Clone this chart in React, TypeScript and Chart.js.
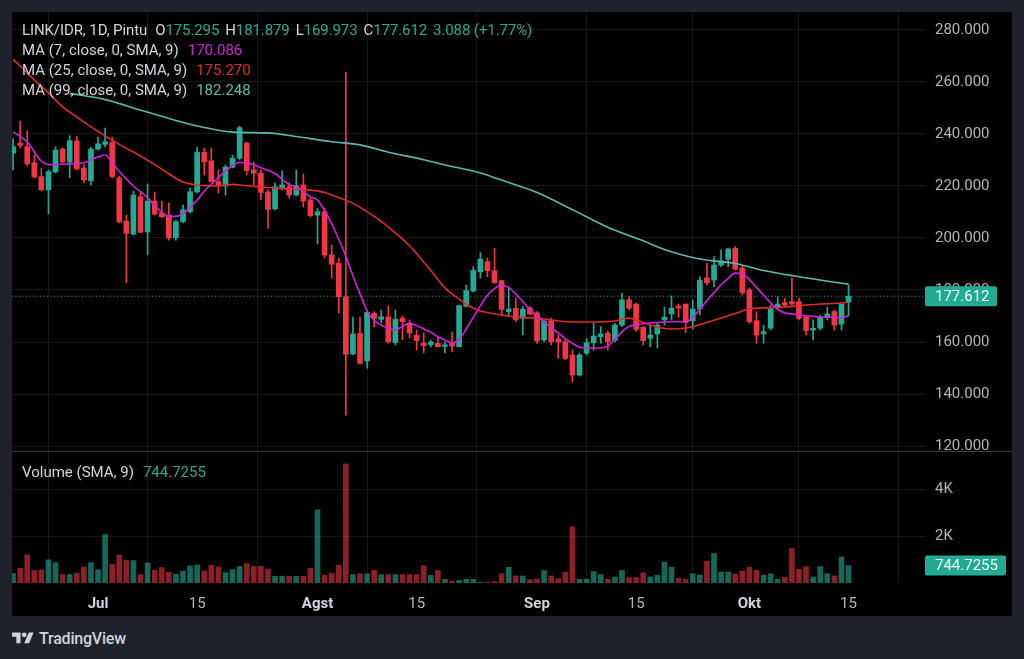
import React, { useEffect, useRef } from 'react';
import { Chart, registerables } from 'chart.js';

Chart.register(...registerables);

// Day index: 0 = 1 Jul. First candle = 19 Jun.
const FIRST_DAY = -12;

// Prices in thousand IDR
const open = [
  232.6, 236.4, 235.1, 228.9, 223.6, 218.5, 225.4, 234.2, 229.2, 237.3, 226.9, 222.0,
  234.2, 236.0, 236.7, 223.1, 206.5, 201.5, 215.9, 202.3, 214.2, 209.7,
  208.8, 200.1, 206.3, 210.1, 217.7, 232.9, 229.7, 221.7, 220.0, 227.2,
  230.7, 236.5, 226.2, 224.9, 217.7, 211.2, 219.3, 219.7, 216.5, 220.4,
  214.6, 208.8, 210.1, 193.5, 190.3, 177.4, 155.4, 163.3, 152.7, 171.0,
  168.7, 169.7, 159.8, 169.2, 167.2, 162.6, 159.6, 159.0, 159.5, 158.3,
  159.5, 158.2, 173.8, 179.6, 187.0, 190.9, 187.4, 183.6, 171.7, 173.0,
  169.1, 173.0, 171.2, 160.8, 168.2, 161.2, 160.1, 155.0, 147.3, 155.7,
  159.7, 162.0, 163.4, 160.6, 166.5, 176.2, 174.6, 165.7, 161.4, 163.1,
  168.5, 170.8, 173.8, 174.6, 168.2, 172.7, 184.7, 183.8, 189.6, 191.8,
  196.0, 188.4, 180.0, 168.2, 163.1, 165.3, 173.4, 175.1, 175.5, 175.5,
  169.7, 164.6, 165.3, 169.5, 171.7, 166.9, 175.295,
];
const high = [
  238.1, 245.0, 241.2, 231.9, 226.9, 226.2, 235.0, 234.6, 239.3, 239.2, 228.1, 235.0,
  238.8, 242.3, 238.8, 223.8, 208.8, 218.1, 217.8, 220.8, 217.7, 214.2,
  213.5, 206.9, 212.7, 219.2, 235.0, 234.6, 234.6, 226.2, 228.1, 231.9,
  243.0, 236.9, 229.2, 226.2, 218.5, 221.2, 225.8, 221.2, 226.2, 224.6,
  215.4, 211.5, 211.5, 197.3, 192.3, 263.8, 169.6, 169.6, 171.7, 171.7,
  172.3, 173.8, 172.3, 170.0, 168.5, 164.6, 163.5, 160.8, 161.5, 160.1,
  163.8, 174.2, 181.9, 189.0, 194.4, 192.2, 196.0, 183.7, 180.8, 176.9,
  173.6, 173.6, 171.7, 168.5, 169.2, 162.7, 160.8, 156.9, 155.7, 161.4,
  167.2, 165.9, 164.2, 167.2, 178.7, 177.4, 175.0, 165.9, 166.5, 167.2,
  173.4, 177.7, 174.6, 174.6, 176.2, 185.1, 190.3, 192.8, 195.4, 196.0,
  196.7, 189.2, 180.8, 171.7, 166.5, 174.2, 177.4, 176.8, 184.5, 176.8,
  170.4, 168.5, 170.4, 173.4, 172.3, 174.8, 181.879,
];
const low = [
  226.2, 234.6, 227.7, 223.1, 218.1, 209.2, 225.0, 228.9, 223.2, 226.2, 221.2, 220.4,
  233.8, 235.0, 223.1, 205.8, 182.8, 201.2, 201.9, 193.5, 208.8, 207.7,
  199.2, 199.2, 205.8, 209.6, 217.3, 224.2, 221.5, 217.3, 216.5, 226.9,
  230.0, 224.2, 220.4, 214.6, 203.7, 210.8, 218.5, 215.4, 216.2, 211.9,
  208.1, 197.7, 192.3, 184.6, 171.2, 131.9, 155.0, 151.5, 149.9, 165.8,
  167.3, 159.6, 158.9, 160.8, 161.5, 156.9, 155.8, 158.1, 158.1, 155.8,
  156.2, 158.1, 173.5, 179.2, 184.6, 185.1, 182.6, 170.4, 169.7, 167.8,
  162.7, 170.4, 159.5, 160.0, 158.9, 153.7, 153.1, 144.7, 146.9, 155.0,
  156.9, 159.5, 156.9, 160.0, 165.9, 172.3, 164.2, 158.9, 158.2, 157.7,
  166.5, 168.5, 169.5, 163.6, 164.9, 170.4, 181.9, 181.3, 189.0, 189.0,
  187.7, 178.1, 167.2, 159.5, 159.5, 164.6, 172.3, 173.4, 174.2, 168.5,
  162.7, 160.8, 164.6, 168.5, 164.6, 164.6, 169.973,
];
const close = [
  235.1, 235.6, 228.5, 223.5, 218.5, 225.5, 233.8, 229.2, 237.4, 226.5, 222.3, 234.2,
  236.2, 237.0, 223.6, 206.2, 201.8, 216.5, 202.2, 214.2, 209.2, 208.2,
  200.0, 206.3, 210.8, 217.8, 232.9, 229.3, 221.7, 220.4, 227.3, 230.7,
  242.4, 225.9, 224.9, 217.5, 211.0, 219.7, 220.4, 216.5, 220.1, 214.2,
  208.6, 210.1, 193.5, 189.9, 177.4, 155.3, 163.1, 151.8, 171.4, 169.1,
  169.7, 160.1, 168.7, 167.8, 163.4, 160.5, 158.6, 160.0, 158.2, 158.9,
  158.4, 174.0, 179.8, 187.5, 191.9, 187.4, 182.8, 172.5, 172.7, 168.5,
  172.6, 170.8, 160.4, 168.1, 160.1, 160.0, 153.7, 147.3, 155.0, 159.7,
  162.3, 163.1, 160.1, 166.5, 176.2, 173.0, 164.9, 160.5, 162.7, 166.5,
  169.5, 173.0, 173.0, 167.4, 172.7, 183.8, 182.8, 189.6, 191.2, 195.8,
  188.0, 179.0, 167.8, 162.7, 164.0, 172.7, 174.6, 174.2, 174.6, 169.1,
  164.4, 165.3, 169.5, 170.8, 166.5, 174.524, 177.612,
];
const volume = [
  400, 630, 1210, 540, 560, 990, 870, 360, 360, 410, 690, 870,
  560, 2070, 790, 1190, 970, 960, 360, 860, 540, 660,
  460, 370, 510, 730, 770, 510, 760, 690, 440, 570,
  710, 830, 710, 710, 590, 290, 290, 290, 290, 290,
  630, 3130, 330, 410, 760, 5090, 360, 390, 390, 540,
  360, 360, 360, 360, 360, 360, 740, 330, 530, 160,
  70, 110, 160, 160, 40, 40, 60, 400, 670, 300,
  300, 140, 170, 530, 300, 190, 460, 2400, 160, 170,
  490, 360, 160, 260, 540, 230, 230, 440, 260, 330,
  900, 670, 200, 160, 400, 340, 940, 1260, 470, 470,
  370, 510, 670, 540, 330, 390, 160, 240, 1470, 590,
  700, 260, 700, 400, 300, 1110, 744.7255,
];

const ma7Days = [
  -12, -10, -8, -7, -4, -2, 0, 1, 2, 3, 5, 7, 8, 10, 11, 12, 14, 15, 17, 18, 20, 21, 23, 25, 27, 28, 30, 31, 32,
  33, 34, 35, 36, 37, 38, 39, 40, 41, 42, 43, 44, 45, 46, 47, 48, 49, 50, 51, 52, 53, 54, 55, 56, 57, 58, 59,
  60, 61, 62, 63, 64, 65, 66, 67, 68, 69, 70, 71, 72, 73, 74, 75, 76, 77, 78, 79, 80, 81, 82, 83, 84, 85, 86,
  87, 88, 89, 90, 91, 92, 93, 94, 95, 96, 97, 98, 99, 100, 101, 102, 103, 104, 105, 106,
];
const ma7Values = [
  240.8, 236.9, 229.5, 228.2, 228.5, 228.9, 231.2, 231.9, 229.0, 225.6, 220.0, 215.5, 212.5, 208.3, 208.3, 209.5,
  214.6, 218.0, 223.2, 225.8, 229.0, 228.9, 227.0, 224.8, 220.5, 219.8, 215.8, 214.6, 210.5,
  205.5, 199.5, 193.0, 185.5, 178.5, 172.0, 168.3, 166.5, 165.3, 164.7, 166.0, 167.3, 166.3, 165.0, 163.8, 162.0,
  160.8, 159.6, 161.0, 165.0, 169.5, 174.0, 178.0, 180.5, 181.8, 181.0, 178.5,
  175.5, 172.5, 170.0, 167.8, 165.5, 163.5, 161.3, 159.5, 158.0, 157.7, 157.7, 157.7, 158.5, 161.0, 164.0, 166.0,
  166.6, 167.0, 167.3, 167.5, 167.7, 167.8, 167.8, 167.8, 169.5, 172.5, 176.0,
  179.0, 182.0, 184.5, 186.5, 186.3, 184.0, 181.0, 178.0, 175.0, 172.5, 171.2, 170.8, 170.4, 170.1, 169.9, 169.6,
  169.6, 169.5, 169.3, 170.086,
];
const ma25Days = [
  -12, -9, -7, -5, -3, 0, 3, 6, 9, 12, 14, 17, 19, 20, 23, 25, 27, 30, 32, 34, 36, 39, 42, 44, 47, 49, 51, 52, 54,
  57, 59, 62, 65, 67, 70, 73, 75, 77, 79, 81, 83, 86, 88, 90, 92, 95, 97, 100, 102, 105, 106,
];
const ma25Values = [
  268.8, 260.8, 255.8, 250.4, 246.5, 241.0, 236.0, 231.5, 226.5, 221.5, 220.4, 220.0, 220.6, 220.4, 219.6, 219.2,
  218.8, 218.4, 217.5, 215.5, 213.3, 208.3, 202.0, 197.0, 187.5, 180.8, 176.5, 174.5, 171.9,
  170.4, 169.6, 169.2, 168.1, 167.7, 167.7, 168.1, 169.2, 167.5, 165.8, 165.0, 165.4, 167.5, 169.2, 171.0, 172.7,
  173.2, 173.5, 174.2, 174.6, 175.0, 175.27,
];
const ma99Days = [-4, 1, 6, 11, 15, 19, 24, 28, 33, 37, 41, 46, 49, 54, 58, 62, 67, 72, 77, 80, 85, 90, 94, 99, 104, 106];
const ma99Values = [
  255.6, 253.2, 249.2, 245.2, 242.5, 240.7, 240.4, 239.0, 237.0, 235.8, 233.0, 230.1, 228.1, 225.0, 221.3, 217.5,
  210.9, 204.1, 198.9, 195.6, 191.9, 190.2, 187.5, 185.1, 183.0, 182.248,
];

const dayTicks = [0, 14, 31, 45, 62, 76, 92, 106];
const dayTickLabels = ['Jul', '15', 'Agst', '15', 'Sep', '15', 'Okt', '15'];
const monthTick = [true, false, true, false, true, false, true, false];
const priceTicks = [120, 140, 160, 180, 200, 220, 240, 260, 280];
const volumeTicks = [2000, 4000];
const volumeTickLabels = ['2K', '4K'];

const X_MIN = -12.15;
const X_MAX = 116.8;
const PRICE_MIN = 117.7;
const PRICE_MAX = 286.9;
const VOL_MAX = 5600;

const FONT = 'Roboto, "Noto Sans", sans-serif';
const FS = 15;
const UP = '#22ab94';
const DOWN = '#f23645';
const UP_VOL = 'rgba(34,171,148,0.6)';
const DOWN_VOL = 'rgba(242,54,69,0.58)';
const MA7_C = '#d21fde';
const MA25_C = '#e02b2b';
const MA99_C = '#5ab9af';
const GRID = 'rgba(255,255,255,0.085)';
const AXIS_TEXT = '#b2b5be';
const MONTH_TEXT = '#d1d4dc';
const TEXT = '#d1d4dc';

const valueBoxPlugin = {
  id: 'valueBox',
  afterDraw(chart: any, _args: any, opts: any) {
    if (!opts || opts.value == null) return;
    const { ctx, chartArea } = chart;
    const y = chart.scales.y.getPixelForValue(opts.value);
    const h = 20;
    ctx.save();
    ctx.fillStyle = opts.background;
    ctx.beginPath();
    if (ctx.roundRect) ctx.roundRect(chartArea.right, y - h / 2, opts.width, h, 2);
    else ctx.rect(chartArea.right, y - h / 2, opts.width, h);
    ctx.fill();
    ctx.fillStyle = '#ffffff';
    ctx.font = FS + 'px ' + FONT;
    ctx.textBaseline = 'middle';
    ctx.textAlign = 'left';
    ctx.fillText(opts.text, chartArea.right + 10, y + 1);
    ctx.restore();
  },
};

export default function App() {
  const priceRef = useRef<HTMLCanvasElement>(null);
  const volRef = useRef<HTMLCanvasElement>(null);

  const n = close.length;
  const lastClose = close[n - 1];
  const change = lastClose - close[n - 2];
  const changePct = (change / close[n - 2]) * 100;

  useEffect(() => {
    const days = open.map((_, i) => FIRST_DAY + i);
    const isUp = open.map((o, i) => close[i] >= o);
    const candleColors = isUp.map((u) => (u ? UP : DOWN));
    const volColors = isUp.map((u) => (u ? UP_VOL : DOWN_VOL));
    const pts = (ds: number[], vs: number[]) => ds.map((d, i) => ({ x: d, y: vs[i] }));

    const lineDs = (label: string, data: any[], color: string) => ({
      type: 'line' as const,
      label,
      data,
      borderColor: color,
      borderWidth: 1.6,
      pointRadius: 0,
      cubicInterpolationMode: 'monotone' as const,
      fill: false,
      order: 0,
    });

    const price = new Chart(priceRef.current as HTMLCanvasElement, {
      type: 'bar',
      data: {
        datasets: [
          lineDs('MA 7', pts(ma7Days, ma7Values), MA7_C),
          lineDs('MA 25', pts(ma25Days, ma25Values), MA25_C),
          lineDs('MA 99', pts(ma99Days, ma99Values), MA99_C),
          {
            type: 'line',
            label: 'last',
            data: [
              { x: X_MIN, y: lastClose },
              { x: X_MAX, y: lastClose },
            ],
            borderColor: UP,
            borderWidth: 1,
            borderDash: [1, 2.5],
            pointRadius: 0,
            order: 1,
          } as any,
          {
            type: 'bar',
            label: 'wick',
            data: days.map((d, i) => ({ x: d, y: [low[i], high[i]] })) as any,
            backgroundColor: candleColors,
            barThickness: 1,
            grouped: false,
            order: 3,
          } as any,
          {
            type: 'bar',
            label: 'body',
            data: days.map((d, i) => ({ x: d, y: [open[i], close[i]] })) as any,
            backgroundColor: candleColors,
            barThickness: 5,
            grouped: false,
            order: 2,
          } as any,
        ],
      },
      options: {
        responsive: false,
        animation: false,
        events: [],
        layout: { padding: 0 },
        plugins: {
          legend: { display: false },
          tooltip: { enabled: false },
          valueBox: { value: lastClose, text: lastClose.toFixed(3), background: UP, width: 72 },
        } as any,
        scales: {
          x: {
            type: 'linear',
            min: X_MIN,
            max: X_MAX,
            offset: false,
            grid: { color: GRID, drawTicks: false },
            border: { display: false },
            ticks: { display: false },
            afterBuildTicks: (s: any) => {
              s.ticks = dayTicks.map((v) => ({ value: v }));
            },
            afterFit: (s: any) => {
              s.height = 0;
              s.paddingLeft = 0;
              s.paddingRight = 0;
            },
          },
          y: {
            position: 'right',
            min: PRICE_MIN,
            max: PRICE_MAX,
            grid: { color: GRID, drawTicks: false },
            border: { display: false },
            ticks: {
              color: AXIS_TEXT,
              padding: 10,
              font: { size: FS, family: FONT },
              callback: (v: any) => Number(v).toFixed(3),
            },
            afterBuildTicks: (s: any) => {
              s.ticks = priceTicks.map((v) => ({ value: v }));
            },
            afterFit: (s: any) => {
              s.width = 87;
              s.paddingTop = 0;
              s.paddingBottom = 0;
            },
          },
        },
      } as any,
      plugins: [valueBoxPlugin as any],
    });

    const vol = new Chart(volRef.current as HTMLCanvasElement, {
      type: 'bar',
      data: {
        datasets: [
          {
            label: 'Volume',
            data: days.map((d, i) => ({ x: d, y: volume[i] })) as any,
            backgroundColor: volColors,
            barThickness: 5,
            grouped: false,
          } as any,
        ],
      },
      options: {
        responsive: false,
        animation: false,
        events: [],
        layout: { padding: 0 },
        plugins: {
          legend: { display: false },
          tooltip: { enabled: false },
          valueBox: {
            value: volume[n - 1],
            text: String(volume[n - 1]),
            background: UP,
            width: 81,
          },
        } as any,
        scales: {
          x: {
            type: 'linear',
            min: X_MIN,
            max: X_MAX,
            offset: false,
            grid: { color: GRID, drawTicks: false },
            border: { display: false },
            ticks: {
              padding: 12,
              autoSkip: false,
              maxRotation: 0,
              color: (c: any) => (monthTick[c.index] ? MONTH_TEXT : AXIS_TEXT),
              font: (c: any) => ({ size: FS, family: FONT, weight: monthTick[c.index] ? 'bold' : 'normal' }),
              callback: (_v: any, i: number) => dayTickLabels[i],
            },
            afterBuildTicks: (s: any) => {
              s.ticks = dayTicks.map((v) => ({ value: v }));
            },
            afterFit: (s: any) => {
              s.height = 34;
              s.paddingLeft = 0;
              s.paddingRight = 0;
            },
          },
          y: {
            position: 'right',
            min: 0,
            max: VOL_MAX,
            grid: { color: GRID, drawTicks: false },
            border: { display: false },
            ticks: {
              color: AXIS_TEXT,
              padding: 10,
              font: { size: FS, family: FONT },
              callback: (_v: any, i: number) => volumeTickLabels[i],
            },
            afterBuildTicks: (s: any) => {
              s.ticks = volumeTicks.map((v) => ({ value: v }));
            },
            afterFit: (s: any) => {
              s.width = 87;
              s.paddingTop = 0;
              s.paddingBottom = 0;
            },
          },
        },
      } as any,
      plugins: [valueBoxPlugin as any],
    });

    return () => {
      price.destroy();
      vol.destroy();
    };
  }, []);

  const gap = { marginLeft: 9 };
  const hgap = { marginLeft: 6 };

  return (
    <div
      style={{
        position: 'fixed',
        left: 0,
        top: 0,
        width: 1024,
        height: 659,
        background: '#1f222b',
        overflow: 'hidden',
        fontFamily: FONT,
      }}
    >
      <div style={{ position: 'absolute', left: 12, top: 12, width: 1000, height: 604, background: '#000' }}>
        <canvas ref={priceRef} width={1000} height={440} style={{ position: 'absolute', left: 0, top: 0, width: 1000, height: 440 }} />
        <div style={{ position: 'absolute', left: 0, top: 439, width: 1000, height: 1, background: '#363a45' }} />
        <canvas ref={volRef} width={1000} height={165} style={{ position: 'absolute', left: 0, top: 440, width: 1000, height: 165 }} />

        <div style={{ position: 'absolute', left: 10, top: 8, fontSize: FS, lineHeight: '20px', color: TEXT, whiteSpace: 'nowrap' }}>
          <div style={{ letterSpacing: -0.1 }}>
            LINK/IDR, 1D, Pintu
            <span style={{ marginLeft: 8 }}>O</span>
            <span style={{ color: UP }}>{open[n - 1].toFixed(3)}</span>
            <span style={hgap}>H</span>
            <span style={{ color: UP }}>{high[n - 1].toFixed(3)}</span>
            <span style={hgap}>L</span>
            <span style={{ color: UP }}>{low[n - 1].toFixed(3)}</span>
            <span style={hgap}>C</span>
            <span style={{ color: UP }}>{lastClose.toFixed(3)}</span>
            <span style={{ ...hgap, color: UP }}>
              {change.toFixed(3)} (+{changePct.toFixed(2)}%)
            </span>
          </div>
          <div>
            MA (7, close, 0, SMA, 9)<span style={{ ...gap, color: MA7_C }}>{ma7Values[ma7Values.length - 1].toFixed(3)}</span>
          </div>
          <div>
            MA (25, close, 0, SMA, 9)<span style={{ ...gap, color: MA25_C }}>{ma25Values[ma25Values.length - 1].toFixed(3)}</span>
          </div>
          <div>
            MA (99, close, 0, SMA, 9)<span style={{ ...gap, color: MA99_C }}>{ma99Values[ma99Values.length - 1].toFixed(3)}</span>
          </div>
        </div>

        <div style={{ position: 'absolute', left: 10, top: 450, fontSize: FS, lineHeight: '20px', color: TEXT, whiteSpace: 'nowrap' }}>
          Volume (SMA, 9)<span style={{ ...gap, color: UP }}>{String(volume[n - 1])}</span>
        </div>
      </div>

      <div style={{ position: 'absolute', left: 12, top: 628, height: 20, display: 'flex', alignItems: 'center', color: '#d1d4dc' }}>
        <svg width="22" height="17" viewBox="0 0 36 28" style={{ display: 'block' }}>
          <path d="M14 22H7V11H0V4h14v18zM28 22h-8l7.5-18h8L28 22z" fill="#d1d4dc" />
          <circle cx="20" cy="8" r="4" fill="#d1d4dc" />
        </svg>
        <span style={{ marginLeft: 5, fontSize: 16, fontWeight: 500, letterSpacing: -0.2 }}>TradingView</span>
      </div>
    </div>
  );
}
